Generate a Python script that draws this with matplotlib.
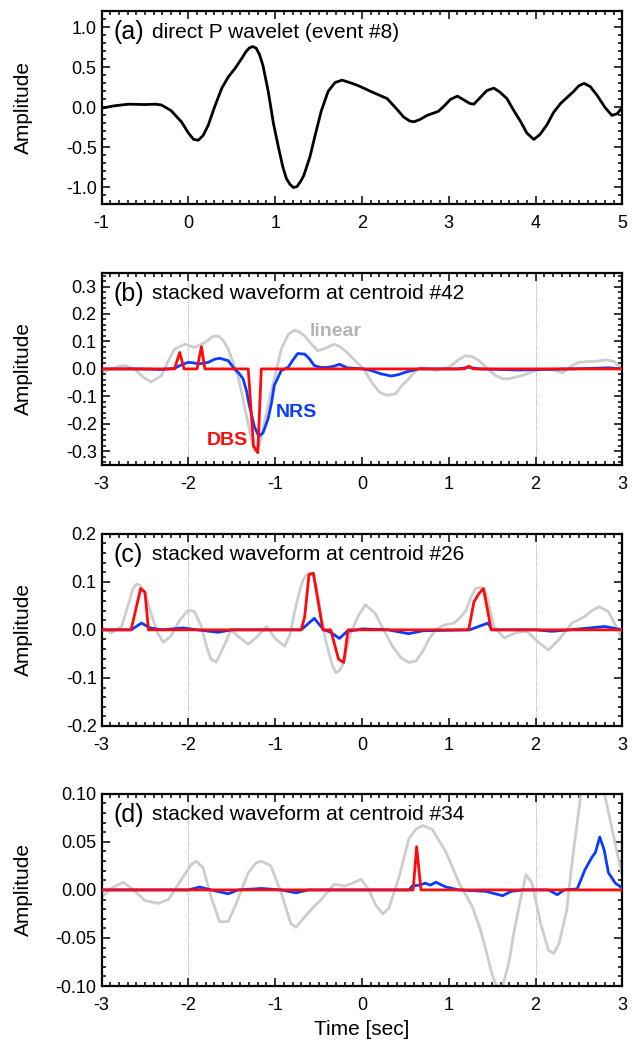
import matplotlib
matplotlib.use("Agg")
import matplotlib.pyplot as plt
from matplotlib.ticker import MultipleLocator, FormatStrFormatter

plt.rcParams['font.family'] = ['Liberation Sans', 'DejaVu Sans']
plt.rcParams['axes.unicode_minus'] = False

# (a) direct P wavelet, event #8
ta = [-1.0, -0.85, -0.69, -0.5, -0.38, -0.31, -0.2, -0.08, 0.0, 0.06, 0.115, 0.17,
      0.23, 0.3, 0.385, 0.46, 0.54, 0.62, 0.66, 0.70, 0.74, 0.78, 0.82, 0.86, 0.92,
      0.98, 1.04, 1.09, 1.13, 1.17, 1.21, 1.25, 1.29, 1.33, 1.40, 1.46, 1.53, 1.61,
      1.69, 1.77, 1.86, 1.96, 2.1, 2.29, 2.4, 2.48, 2.55, 2.60, 2.67, 2.75, 2.88,
      2.95, 3.02, 3.10, 3.18, 3.24, 3.29, 3.36, 3.44, 3.52, 3.59, 3.67, 3.75, 3.83,
      3.9, 3.98, 4.05, 4.13, 4.21, 4.29, 4.37, 4.44, 4.5, 4.56, 4.63, 4.71, 4.8,
      4.88, 4.94, 5.0]
amp_a = [-0.01, 0.02, 0.04, 0.035, 0.04, 0.03, -0.04, -0.18, -0.32, -0.40, -0.41, -0.35,
         -0.22, 0.0, 0.24, 0.38, 0.49, 0.62, 0.69, 0.74, 0.76, 0.74, 0.66, 0.52, 0.2,
         -0.2, -0.51, -0.75, -0.89, -0.96, -1.0, -0.99, -0.93, -0.85, -0.62, -0.35,
         -0.05, 0.20, 0.31, 0.34, 0.31, 0.27, 0.20, 0.11, -0.02, -0.12, -0.17, -0.18,
         -0.15, -0.10, -0.05, 0.02, 0.10, 0.14, 0.09, 0.05, 0.04, 0.12, 0.21, 0.24,
         0.19, 0.11, -0.04, -0.18, -0.32, -0.40, -0.34, -0.22, -0.06, 0.05, 0.13, 0.20,
         0.27, 0.30, 0.26, 0.15, 0.0, -0.10, -0.08, 0.0]

# (b) centroid #42
tb_lin = [-3.0, -2.885, -2.8, -2.73, -2.62, -2.52, -2.43, -2.31, -2.23, -2.16, -2.04,
          -1.93, -1.81, -1.72, -1.66, -1.6, -1.54, -1.48, -1.43, -1.39, -1.35, -1.31,
          -1.28, -1.24, -1.18, -1.12, -1.06, -1.01, -0.93, -0.85, -0.78, -0.72, -0.66,
          -0.58, -0.51, -0.42, -0.32, -0.25, -0.17, -0.08, 0.02, 0.11, 0.2, 0.29, 0.39,
          0.46, 0.54, 0.61, 0.68, 0.77, 0.85, 0.93, 1.0, 1.1, 1.19, 1.27, 1.35, 1.45,
          1.54, 1.62, 1.69, 1.77, 1.85, 2.0, 2.16, 2.31, 2.42, 2.5, 2.57, 2.7, 2.82, 2.9, 3.0]
lin_b = [-0.012, 0.0, 0.01, 0.012, 0.0, -0.03, -0.048, -0.024, 0.03, 0.072, 0.09,
         0.078, 0.096, 0.118, 0.12, 0.105, 0.072, 0.02, -0.024, -0.08, -0.143, -0.2,
         -0.25, -0.30, -0.275, -0.19, -0.1, -0.036, 0.072, 0.125, 0.141, 0.135, 0.12,
         0.09, 0.066, 0.075, 0.09, 0.08, 0.06, 0.03, 0.0, -0.048, -0.085, -0.096, -0.09,
         -0.06, -0.036, -0.01, 0.006, 0.0, -0.006, 0.0, 0.006, 0.03, 0.048, 0.045, 0.03, 0.0,
         -0.024, -0.036, -0.036, -0.03, -0.024, -0.006, 0.0, -0.014, 0.012, 0.024, 0.026,
         0.028, 0.033, 0.028, 0.0]
tb_nrs = [-3.0, -2.6, -2.31, -2.16, -2.08, -2.0, -1.94, -1.88, -1.77, -1.7, -1.64, -1.54,
          -1.47, -1.42, -1.37, -1.33, -1.30, -1.27, -1.24, -1.19, -1.14, -1.08, -1.04,
          -1.01, -0.93, -0.85, -0.79, -0.74, -0.66, -0.6, -0.55, -0.47, -0.39, -0.32,
          -0.26, -0.17, 0.02, 0.11, 0.22, 0.34, 0.43, 0.50, 0.65, 1.11, 1.23, 1.35, 1.81,
          2.4, 2.65, 2.84, 3.0]
nrs_b = [0.0, 0.0, -0.002, 0.002, 0.015, 0.024, 0.022, 0.018, 0.024, 0.035, 0.039, 0.03,
         0.0, -0.015, -0.036, -0.08, -0.13, -0.17, -0.21, -0.245, -0.233, -0.18, -0.12,
         -0.06, -0.006, 0.006, 0.035, 0.056, 0.054, 0.035, 0.012, 0.005, 0.006, 0.01,
         0.017, 0.004, 0.0, -0.006, -0.018, -0.026, -0.02, -0.012, 0.0, 0.0, 0.006, 0.0,
         -0.004, 0.0, 0.002, 0.004, 0.0]
tb_dbs = [-3.0, -2.16, -2.10, -2.05, -1.90, -1.85, -1.81, -1.31, -1.25, -1.20, -1.16,
          1.18, 1.23, 1.28, 3.0]
dbs_b = [0.0, 0.0, 0.06, 0.0, 0.0, 0.081, 0.0, 0.0, -0.28, -0.305, 0.0, 0.0, 0.01, 0.0, 0.0]

# (c) centroid #26
tc_lin = [-3.0, -2.885, -2.77, -2.68, -2.64, -2.60, -2.56, -2.50, -2.43, -2.36, -2.29,
          -2.20, -2.1, -2.0, -1.93, -1.85, -1.79, -1.74, -1.68, -1.58, -1.51, -1.43,
          -1.31, -1.20, -1.10, -0.99, -0.89, -0.83, -0.78, -0.72, -0.68, -0.64, -0.60,
          -0.56, -0.52, -0.47, -0.42, -0.38, -0.34, -0.30, -0.26, -0.22, -0.13, -0.04,
          0.04, 0.15, 0.25, 0.35, 0.45, 0.54, 0.62, 0.70, 0.77, 0.85, 0.93, 1.06, 1.13,
          1.20, 1.26, 1.31, 1.37, 1.43, 1.52, 1.64, 1.77, 1.90, 2.04, 2.15, 2.27, 2.42,
          2.57, 2.65, 2.73, 2.84, 2.92, 2.98]
lin_c = [0.004, -0.006, 0.007, 0.06, 0.085, 0.095, 0.093, 0.076, 0.034, -0.005, -0.026,
         -0.013, 0.02, 0.041, 0.038, 0.007, -0.035, -0.061, -0.067, -0.03, 0.0, -0.013,
         -0.03, -0.013, 0.007, -0.02, -0.034, -0.01, 0.034, 0.08, 0.103, 0.114, 0.118,
         0.113, 0.085, 0.028, -0.02, -0.048, -0.075, -0.089, -0.085, -0.072, -0.007, 0.03,
         0.052, 0.035, 0.0, -0.034, -0.058, -0.068, -0.065, -0.045, -0.02, 0.0, 0.009,
         0.014, 0.025, 0.041, 0.07, 0.086, 0.088, 0.076, 0.007, -0.017, -0.006, -0.003,
         -0.027, -0.042, -0.02, 0.014, 0.028, 0.04, 0.048, 0.038, 0.01, -0.013]
tc_nrs = [-3.0, -2.66, -2.54, -2.44, -2.3, -2.06, -1.9, -1.66, -1.5, -0.70, -0.55, -0.44,
          -0.36, -0.26, -0.17, -0.05, 0.0, 0.3, 0.54, 0.7, 1.24, 1.45, 1.50, 2.0, 2.19,
          2.4, 2.80, 3.0]
nrs_c = [0.0, 0.0, 0.014, 0.004, 0.0, 0.004, 0.0, -0.005, 0.0, 0.0, 0.024, 0.0, -0.005,
         -0.018, -0.003, 0.0, 0.002, 0.0, -0.008, -0.002, 0.0, 0.014, 0.0, 0.0, -0.003,
         0.0, 0.007, 0.0]
tc_dbs = [-3.0, -2.66, -2.55, -2.50, -2.46, -0.70, -0.66, -0.61, -0.56, -0.45, -0.36,
          -0.27, -0.21, -0.16, 1.23, 1.29, 1.35, 1.40, 1.49, 3.0]
dbs_c = [0.0, 0.0, 0.086, 0.078, 0.0, 0.0, 0.027, 0.115, 0.118, 0.0, 0.0, -0.061, -0.068,
         0.0, 0.0, 0.058, 0.076, 0.086, 0.0, 0.0]

# (d) centroid #34
td_lin = [-3.0, -2.885, -2.75, -2.66, -2.5, -2.35, -2.23, -2.08, -1.97, -1.91, -1.83,
          -1.74, -1.64, -1.54, -1.43, -1.31, -1.22, -1.16, -1.05, -0.93, -0.82, -0.76,
          -0.66, -0.56, -0.47, -0.32, -0.2, -0.11, -0.01, 0.08, 0.16, 0.24, 0.31, 0.43,
          0.54, 0.62, 0.70, 0.81, 0.97, 1.12, 1.27, 1.36, 1.43, 1.50, 1.54, 1.58, 1.62,
          1.69, 1.75, 1.81, 1.89, 1.96, 2.06, 2.15, 2.21, 2.27, 2.36, 2.41, 2.46, 2.52,
          2.58, 2.64, 2.72, 2.80, 2.90, 2.99]
lin_d = [-0.008, 0.002, 0.008, 0.002, -0.011, -0.014, -0.010, 0.011, 0.026, 0.030, 0.023,
         -0.007, -0.033, -0.033, -0.010, 0.018, 0.028, 0.030, 0.025, -0.003, -0.035, -0.039,
         -0.028, -0.018, -0.010, 0.006, 0.004, 0.007, 0.011, 0.0, -0.016, -0.025, -0.019,
         0.014, 0.053, 0.063, 0.067, 0.063, 0.039, 0.007, -0.017, -0.04, -0.063, -0.088,
         -0.098, -0.103, -0.10, -0.077, -0.045, -0.017, 0.016, 0.007, -0.035, -0.063,
         -0.066, -0.056, -0.021, 0.02, 0.056, 0.098, 0.115, 0.12, 0.115, 0.098, 0.056, 0.018]
td_nrs = [-3.0, -2.0, -1.87, -1.74, -1.54, -1.43, -1.16, -0.93, -0.76, -0.62, 0.54, 0.58,
          0.66, 0.73, 0.79, 0.85, 0.97, 1.12, 1.43, 1.62, 1.72, 1.85, 2.15, 2.25, 2.33,
          2.48, 2.57, 2.65, 2.69, 2.74, 2.79, 2.84, 2.92, 3.0]
nrs_d = [0.0, 0.0, 0.003, 0.0, -0.004, 0.0, 0.0015, 0.0, -0.003, 0.0, 0.0, 0.004, 0.005,
         0.007, 0.005, 0.008, 0.003, 0.0, -0.0015, -0.006, -0.0015, 0.0, 0.0, -0.005, 0.0,
         0.001, 0.021, 0.034, 0.039, 0.055, 0.042, 0.018, 0.007, 0.002]
td_dbs = [-3.0, 0.59, 0.63, 0.68, 3.0]
dbs_d = [0.0, 0.0, 0.045, 0.0, 0.0]

GRAY = '#cdcdcd'
BLUE = '#0a3cff'
RED = '#ff0a0a'

fig = plt.figure(figsize=(6.35, 10.42), dpi=100)
left, width, height = 0.160, 0.820, 0.1845
bottoms = [0.8047, 0.5537, 0.3033, 0.0537]
axes = [fig.add_axes([left, b, width, height]) for b in bottoms]


def style(ax, xmaj, ymaj, yminor, fmt):
    ax.xaxis.set_major_locator(MultipleLocator(xmaj))
    ax.xaxis.set_minor_locator(MultipleLocator(0.1))
    ax.yaxis.set_major_locator(MultipleLocator(ymaj))
    ax.yaxis.set_minor_locator(MultipleLocator(yminor))
    ax.yaxis.set_major_formatter(FormatStrFormatter(fmt))
    ax.tick_params(which='both', direction='in', top=True, right=True,
                   labelsize=13, width=1.1)
    ax.tick_params(which='major', length=6)
    ax.tick_params(which='minor', length=3)
    ax.tick_params(axis='x', pad=8)
    for s in ax.spines.values():
        s.set_linewidth(1.6)
    ax.set_ylabel('Amplitude', fontsize=15)
    ax.yaxis.set_label_coords(-0.132, 0.5)


def tag(ax, letter, text):
    ax.text(0.022, 0.89, letter, transform=ax.transAxes, fontsize=18,
            va='center', ha='left')
    ax.text(0.097, 0.89, text, transform=ax.transAxes, fontsize=15,
            va='center', ha='left')


# panel (a)
ax = axes[0]
ax.plot(ta, amp_a, color='black', lw=2.0)
ax.set_xlim(-1, 5)
ax.set_ylim(-1.2, 1.2)
style(ax, 1, 0.5, 0.1, '%.1f')
tag(ax, '(a)', 'direct P wavelet (event #8)')

# stacked panels
stacks = [
    (tb_lin, lin_b, tb_nrs, nrs_b, tb_dbs, dbs_b, (-0.35, 0.35), 0.1, 0.02, '%.1f', '(b)', '#42'),
    (tc_lin, lin_c, tc_nrs, nrs_c, tc_dbs, dbs_c, (-0.2, 0.2), 0.1, 0.02, '%.1f', '(c)', '#26'),
    (td_lin, lin_d, td_nrs, nrs_d, td_dbs, dbs_d, (-0.1, 0.1), 0.05, 0.01, '%.2f', '(d)', '#34'),
]
for ax, (tl, yl, tn, yn, td, yd, ylim, ymaj, ymin, fmt, letter, cid) in zip(axes[1:], stacks):
    for xv in (-2, 2):
        ax.axvline(xv, color='#888888', lw=0.6, ls=(0, (1, 1.5)), zorder=1)
    ax.plot(tl, yl, color=GRAY, lw=2.0, zorder=2)
    ax.plot(tn, yn, color=BLUE, lw=2.0, zorder=3)
    ax.plot(td, yd, color=RED, lw=2.0, zorder=4)
    ax.set_xlim(-3, 3)
    ax.set_ylim(*ylim)
    style(ax, 1, ymaj, ymin, fmt)
    tag(ax, letter, 'stacked waveform at centroid ' + cid)

ax = axes[1]
ax.text(-0.6, 0.137, 'linear', color='#b4b4b4', fontsize=14, fontweight='bold',
        ha='left', va='center')
ax.text(-0.99, -0.16, 'NRS', color=BLUE, fontsize=14, fontweight='bold',
        ha='left', va='center')
ax.text(-1.79, -0.26, 'DBS', color=RED, fontsize=14, fontweight='bold',
        ha='left', va='center')

axes[3].set_xlabel('Time [sec]', fontsize=15)
axes[3].xaxis.set_label_coords(0.5, -0.175)

fig.savefig('out.png', dpi=100)
